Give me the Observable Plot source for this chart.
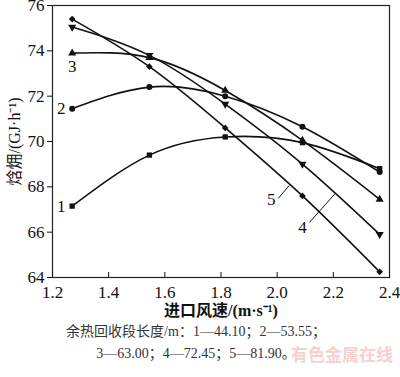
<!DOCTYPE html>
<html><head><meta charset="utf-8">
<script src="https://cdn.jsdelivr.net/npm/d3@7"></script>
<script src="https://cdn.jsdelivr.net/npm/@observablehq/plot@0.6"></script>
<style>
body{margin:0;background:#fff;}
#wrap{position:relative;width:400px;height:377px;overflow:hidden;}
.cap{position:absolute;left:0;width:392px;text-align:center;font-family:"Liberation Serif","Noto Sans CJK SC",serif;font-size:14px;color:#333;white-space:nowrap;}
.wm{position:absolute;left:291px;top:341px;font-family:"Noto Sans CJK SC",sans-serif;font-weight:bold;font-size:17px;color:#f7cfcf;white-space:nowrap;}
</style></head>
<body><div id="wrap"></div>
<script>
const speeds = [1.27, 1.545, 1.815, 2.09, 2.365];
const series1 = [67.15, 69.4, 70.2, 69.95, 68.8];
const series2 = [71.45, 72.4, 72.0, 70.65, 68.65];
const series3 = [73.9, 73.7, 72.25, 70.05, 67.45];
const series4 = [75.05, 73.8, 71.65, 69.0, 65.9];
const series5 = [75.4, 73.3, 70.6, 67.6, 64.25];
const seriesNames = ["1", "2", "3", "4", "5"];
const symbols = ["square", "circle", "triangle", "triangle", "diamond2"];
const rotations = [0, 0, 0, 180, 0];
const xTicks = [1.2, 1.4, 1.6, 1.8, 2.0, 2.2, 2.4];
const yTicks = [64, 66, 68, 70, 72, 74, 76];
const xLabel = "进口风速/(m·s⁻¹)";
const yLabel = "焓㶲/(GJ·h⁻¹)";
const captionLine1 = "余热回收段长度/m：1—44.10；2—53.55；";
const captionLine2 = "3—63.00；4—72.45；5—81.90。";
const watermark = "有色金属在线";
// leader-line annotations for series 4 and 5 (data space)
const leaders = [
  {name: "5", tx: 1.979, ty: 67.44, x1: 2.004, y1: 67.49, x2: 2.043, y2: 68.06},
  {name: "4", tx: 2.09, ty: 66.2, x1: 2.115, y1: 66.43, x2: 2.207, y2: 67.71}
];

const allSeries = [series1, series2, series3, series4, series5];
const rows = allSeries.flatMap((s, i) => s.map((v, j) => ({x: speeds[j], y: v, k: seriesNames[i], sym: symbols[i], rot: rotations[i]})));
const firsts = rows.filter(d => d.x === speeds[0]);
const serif = "Liberation Serif, Noto Sans CJK SC, serif";

const chart = Plot.plot({
  width: 400, height: 320,
  marginLeft: 52, marginRight: 11, marginTop: 5, marginBottom: 43,
  style: {fontFamily: serif, fontSize: "16px", color: "#111", background: "#fff"},
  x: {domain: [1.2, 2.4]},
  y: {domain: [64, 76]},
  symbol: {type: "identity"},
  marks: [
    Plot.frame({stroke: "#222", strokeWidth: 1.2}),
    Plot.axisX({ticks: xTicks, tickSize: -5, tickPadding: 13, tickFormat: d => d.toFixed(1), label: null, fontSize: 17, fontFamily: serif}),
    Plot.axisY({ticks: yTicks, tickSize: 5, tickPadding: 3, tickFormat: d => d, label: null, fontSize: 17, fontFamily: serif}),
    Plot.text([yLabel], {frameAnchor: "left", dx: -38, rotate: -90, textAnchor: "middle", lineAnchor: "middle", fontSize: 16, fontFamily: serif}),
    Plot.text([xLabel], {frameAnchor: "bottom", dy: 33, lineAnchor: "middle", textAnchor: "middle", fontSize: 16, fontWeight: "bold", fontFamily: serif}),
    Plot.line(rows, {x: "x", y: "y", z: "k", curve: "natural", stroke: "#111", strokeWidth: 1.6}),
    Plot.dot(rows, {x: "x", y: "y", symbol: "sym", rotate: "rot", r: 3, fill: "#111", stroke: "none"}),
    Plot.text(firsts.filter(d => d.k === "1" || d.k === "2"), {x: "x", y: "y", text: "k", dx: -11, fontSize: 17, fontFamily: serif}),
    Plot.text(firsts.filter(d => d.k === "3"), {x: "x", y: "y", text: "k", dy: 13, fontSize: 17, fontFamily: serif}),
    Plot.link(leaders, {x1: "x1", y1: "y1", x2: "x2", y2: "y2", stroke: "#111", strokeWidth: 1}),
    Plot.text(leaders, {x: "tx", y: "ty", text: "name", fontSize: 17, fontFamily: serif})
  ]
});
const wrap = document.getElementById("wrap");
wrap.appendChild(chart);
const c1 = document.createElement("div"); c1.className = "cap"; c1.style.top = "320px"; c1.textContent = captionLine1; wrap.appendChild(c1);
const c2 = document.createElement("div"); c2.className = "cap"; c2.style.top = "342px"; c2.textContent = captionLine2; wrap.appendChild(c2);
const w = document.createElement("div"); w.className = "wm"; w.textContent = watermark; wrap.appendChild(w);
</script></body></html>
